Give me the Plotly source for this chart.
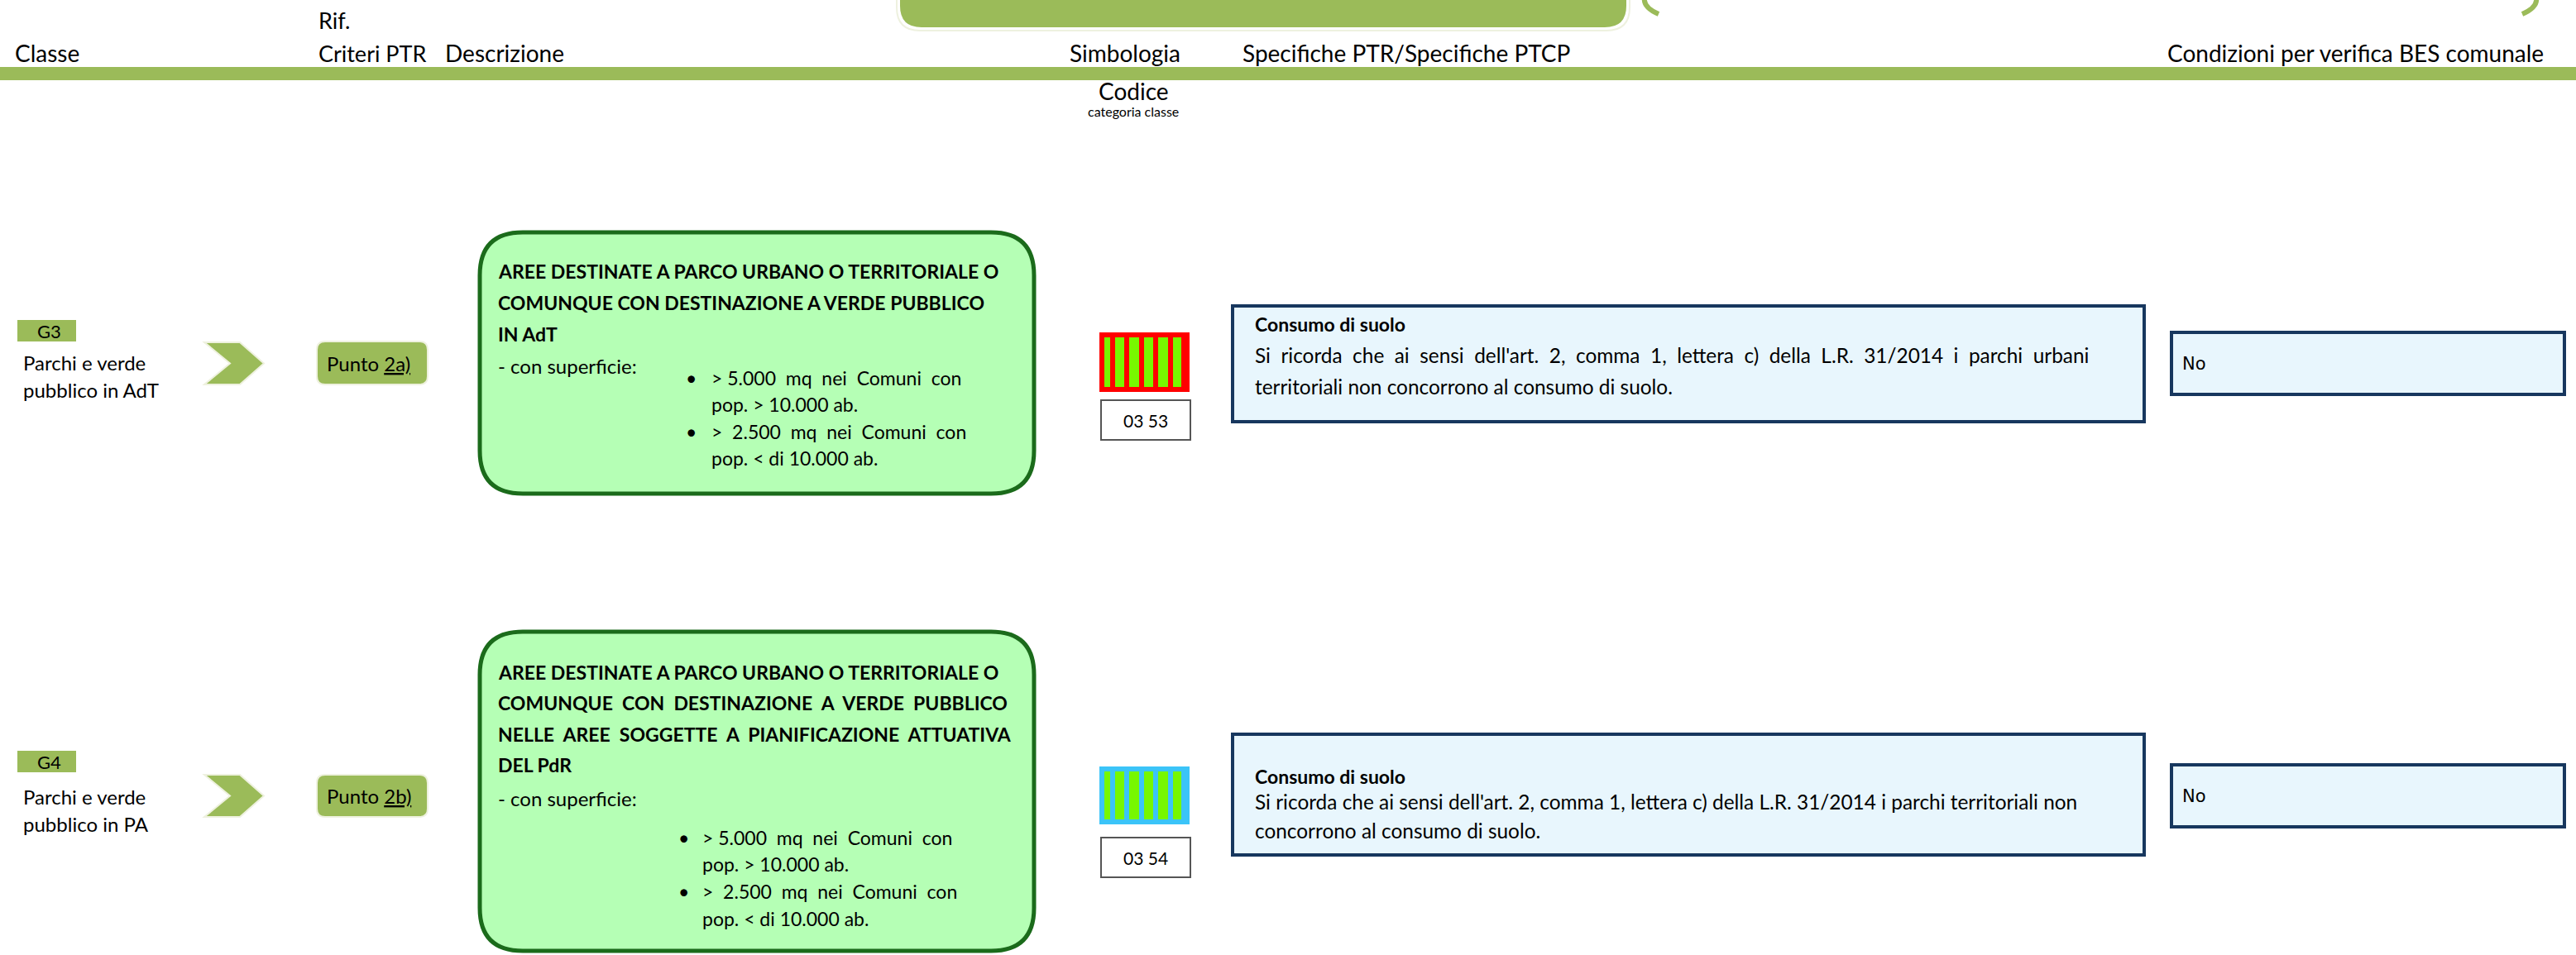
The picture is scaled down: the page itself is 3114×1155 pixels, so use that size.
import plotly.graph_objects as go

W, H = 3114, 1155

# ---------------- data ----------------
header_labels = ["Classe", "Criteri PTR", "Descrizione", "Simbologia",
                 "Specifiche PTR/Specifiche PTCP", "Condizioni per verifica BES comunale"]
header_super = "Rif."
codice_label = "Codice"
codice_sub = "categoria classe"

class_codes = ["G3", "G4"]
class_names = [["Parchi e verde", "pubblico in AdT"],
               ["Parchi e verde", "pubblico in PA"]]
punto_refs = ["2a)", "2b)"]
desc_titles = [
    ["AREE DESTINATE A PARCO URBANO O TERRITORIALE O",
     "COMUNQUE CON DESTINAZIONE A VERDE PUBBLICO",
     "IN AdT"],
    ["AREE DESTINATE A PARCO URBANO O TERRITORIALE O",
     "COMUNQUE  CON  DESTINAZIONE  A  VERDE  PUBBLICO",
     "NELLE  AREE  SOGGETTE  A  PIANIFICAZIONE  ATTUATIVA",
     "DEL PdR"],
]
desc_intro = ["- con superficie:", "- con superficie:"]
desc_bullets = [["> 5.000  mq  nei  Comuni  con", "pop. > 10.000 ab."],
                [">  2.500  mq  nei  Comuni  con", "pop. < di 10.000 ab."]]
symbol_bg = ["#FF0000", "#3BC4F8"]
symbol_stripe = "#77F700"
codici = ["03 53", "03 54"]
spec_titles = ["Consumo di suolo", "Consumo di suolo"]
spec_lines = [
    ["Si  ricorda  che  ai  sensi  dell'art.  2,  comma  1,  lettera  c)  della  L.R.  31/2014  i  parchi  urbani",
     "territoriali non concorrono al consumo di suolo."],
    ["Si ricorda che ai sensi dell'art. 2, comma 1, lettera c) della L.R. 31/2014 i parchi territoriali non",
     "concorrono al consumo di suolo."],
]
bes_conditions = ["No", "No"]

# ---------------- layout geometry (pixels) ----------------
OLIVE = "#9BBB59"
CREAM = "#EEF1DF"
DESC_FILL = "#B5FFB5"
DESC_LINE = "#1B6B1B"
SPEC_FILL = "#E8F6FD"
SPEC_LINE = "#17375E"
FONT = "Lato, Carlito, sans-serif"

rows = [
    dict(code_box=(21, 387, 92, 413), name_y=(438, 471), chev=(247, 414, 319, 465),
         punto=(383, 413, 517, 465), desc=(580, 281, 1250, 597),
         title_y=[328, 366, 404], intro_y=442, bullet_x=(827, 858),
         bullet_y=[457, 489, 522, 554], sym=(1329, 402, 1438, 474),
         cod=(1331, 484, 1439, 532), spec=(1490, 370, 2592, 510),
         spec_y=[392, 429, 467], bes=(2625, 402, 3100, 477)),
    dict(code_box=(21, 908, 92, 934), name_y=(963, 996), chev=(247, 937, 319, 988),
         punto=(383, 937, 517, 988), desc=(580, 764, 1250, 1150),
         title_y=[813, 850, 888, 925], intro_y=965, bullet_x=(818, 847),
         bullet_y=[1013, 1045, 1078, 1111], sym=(1329, 927, 1438, 997),
         cod=(1331, 1013, 1439, 1061), spec=(1490, 888, 2592, 1034),
         spec_y=[939, 969, 1004], bes=(2625, 925, 3100, 1000)),
]
stripe_offsets = [(6, 13), (19, 30), (36, 48), (54, 65), (71, 83), (89, 99)]


def rrect(x0, y0, x1, y1, r):
    return (f"M {x0+r},{y0} L {x1-r},{y0} Q {x1},{y0} {x1},{y0+r} "
            f"L {x1},{y1-r} Q {x1},{y1} {x1-r},{y1} L {x0+r},{y1} "
            f"Q {x0},{y1} {x0},{y1-r} L {x0},{y0+r} Q {x0},{y0} {x0+r},{y0} Z")


shapes = []
annotations = []


def txt(x, y, s, size, color="#000", anchor="left", family=FONT, bold=False):
    if bold:
        s = f"<b>{s}</b>"
    annotations.append(dict(x=x, y=y, xref="x", yref="y", text=s, showarrow=False,
                            xanchor=anchor, yanchor="middle",
                            font=dict(family=family, size=size, color=color)))


def rect(x0, y0, x1, y1, fill, line=None, lw=0):
    shapes.append(dict(type="rect", xref="x", yref="y", x0=x0, y0=y0, x1=x1, y1=y1,
                       fillcolor=fill, line=dict(color=line or fill, width=lw),
                       layer="above"))


def path(p, fill=None, line=None, lw=0):
    d = dict(type="path", xref="x", yref="y", path=p, layer="above",
             line=dict(color=line or "rgba(0,0,0,0)", width=lw))
    if fill:
        d["fillcolor"] = fill
    shapes.append(d)


# top banner and decorative brackets
path(rrect(1084, -80, 1970, 37, 28), fill="white", line=CREAM, lw=2)
path(rrect(1088, -80, 1966, 33, 26), fill=OLIVE)
path("M 2006,-26 Q 1970,2 2005,17", line=OLIVE, lw=6)
path("M 3048,-26 Q 3084,2 3049,17", line=OLIVE, lw=6)

# header
rect(0, 81, W, 97, OLIVE)
hx = [16, 383, 536, 1291, 1500, 2618]
hsz = [28, 27, 28, 28, 28, 28]
for x, lab, s in zip(hx, header_labels, hsz):
    txt(x, 64, lab, s)
txt(383, 24, header_super, 27)
txt(1370, 110, codice_label, 28, anchor="center")
txt(1370, 134, codice_sub, 16, anchor="center")

for i, g in enumerate(rows):
    # class code and name
    x0, y0, x1, y1 = g["code_box"]
    rect(x0, y0, x1, y1, OLIVE)
    txt(43, (y0 + y1) / 2, class_codes[i], 22)
    for yy, s in zip(g["name_y"], class_names[i]):
        txt(26, yy, s, 24)
    # chevron
    cx0, cy0, cx1, cy1 = g["chev"]
    cym = (cy0 + cy1) / 2
    path(f"M {cx0},{cy0} L {cx0+43},{cy0} L {cx1},{cym} L {cx0+43},{cy1} L {cx0},{cy1} "
         f"L {cx0+31},{cym} Z", fill=OLIVE, line=CREAM, lw=2)
    # punto box
    px0, py0, px1, py1 = g["punto"]
    path(rrect(px0, py0, px1, py1, 10), fill=OLIVE, line=CREAM, lw=2)
    txt(393, (py0 + py1) / 2, f"Punto <u>{punto_refs[i]}</u>", 24)
    # description box
    dx0, dy0, dx1, dy1 = g["desc"]
    path(rrect(dx0, dy0, dx1, dy1, 52), fill=DESC_FILL, line=DESC_LINE, lw=5)
    for yy, s in zip(g["title_y"], desc_titles[i]):
        txt(600, yy, s, 23, bold=True)
    txt(600, g["intro_y"], desc_intro[i], 24)
    bx, tx = g["bullet_x"]
    by = g["bullet_y"]
    txt(bx, by[0], "•", 23)
    txt(tx, by[0], desc_bullets[0][0], 23)
    txt(tx, by[1], desc_bullets[0][1], 23)
    txt(bx, by[2], "•", 23)
    txt(tx, by[2], desc_bullets[1][0], 23)
    txt(tx, by[3], desc_bullets[1][1], 23)
    # symbol
    sx0, sy0, sx1, sy1 = g["sym"]
    rect(sx0, sy0, sx1, sy1, symbol_bg[i])
    for a, b in stripe_offsets:
        rect(sx0 + a, sy0 + 6, sx0 + b, sy1 - 6, symbol_stripe)
    kx0, ky0, kx1, ky1 = g["cod"]
    rect(kx0, ky0, kx1, ky1, "white", line="#555555", lw=2)
    txt((kx0 + kx1) / 2, (ky0 + ky1) / 2, codici[i], 21, anchor="center")
    # spec box
    qx0, qy0, qx1, qy1 = g["spec"]
    rect(qx0, qy0, qx1, qy1, SPEC_FILL, line=SPEC_LINE, lw=4)
    sy = g["spec_y"]
    txt(1515, sy[0], spec_titles[i], 23, bold=True)
    txt(1515, sy[1], spec_lines[i][0], 24.4)
    txt(1515, sy[2], spec_lines[i][1], 24.4)
    # BES box
    ex0, ey0, ex1, ey1 = g["bes"]
    rect(ex0, ey0, ex1, ey1, SPEC_FILL, line=SPEC_LINE, lw=4)
    txt(2636, (ey0 + ey1) / 2, bes_conditions[i], 21, family="DejaVu Sans")

fig = go.Figure()
fig.update_layout(
    width=W, height=H, margin=dict(l=0, r=0, t=0, b=0),
    paper_bgcolor="white", plot_bgcolor="white",
    xaxis=dict(range=[0, W], visible=False, fixedrange=True),
    yaxis=dict(range=[H, 0], visible=False, fixedrange=True),
    shapes=shapes, annotations=annotations, showlegend=False,
)
fig.write_html("out.html", config={"displayModeBar": False},
               post_script="document.body.style.margin='0px';document.body.style.overflow='hidden';")
